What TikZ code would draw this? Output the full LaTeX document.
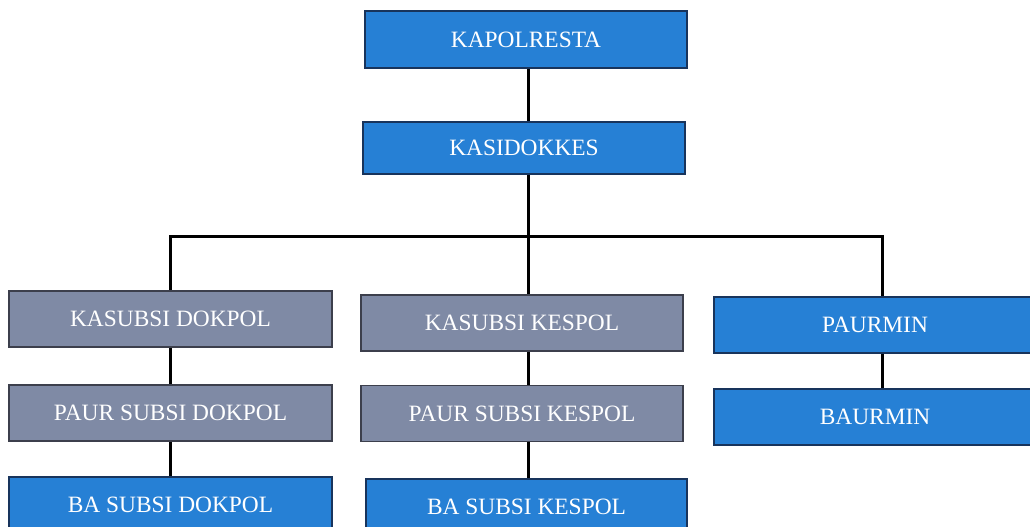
\documentclass[tikz,border=0pt]{standalone}
\usepackage{fontspec}
\setmainfont{Liberation Serif}
\definecolor{boxblue}{RGB}{38,128,213}
\definecolor{boxgray}{RGB}{127,138,165}
\definecolor{blueedge}{RGB}{24,52,92}
\definecolor{grayedge}{RGB}{60,63,76}
\tikzset{
  base/.style={rectangle, inner sep=0pt, line width=1.5pt, text=white,
    font=\fontsize{23.4}{26}\selectfont},
  bluebox/.style={base, fill=boxblue, draw=blueedge},
  graybox/.style={base, fill=boxgray, draw=grayedge},
  conn/.style={line width=3pt, black}
}
\begin{document}
\begin{tikzpicture}[x=1pt,y=-1pt]
\useasboundingbox (0,0) rectangle (1030,527);
\clip (0,0) rectangle (1030,527);
\coordinate (jm) at (528,236);
\coordinate (jl) at (170,236);
\coordinate (jr) at (882,236);
\node[bluebox, minimum width=322pt, minimum height=57pt] (kapol) at (526,39.5) {KAPOLRESTA};
\node[bluebox, minimum width=322pt, minimum height=52pt] (kasi) at (524,148) {KASIDOKKES};
\node[graybox, minimum width=323pt, minimum height=56pt] (kdok) at (170.5,319) {KASUBSI DOKPOL};
\node[graybox, minimum width=323pt, minimum height=56pt] (pdok) at (170.5,413) {PAUR SUBSI DOKPOL};
\node[bluebox, minimum width=323pt, minimum height=56pt] (bdok) at (170.5,505) {BA SUBSI DOKPOL};
\node[graybox, minimum width=322pt, minimum height=56pt] (kkes) at (522,323) {KASUBSI KESPOL};
\node[graybox, minimum width=322pt, minimum height=56pt] (pkes) at (522,413.5) {PAUR SUBSI KESPOL};
\node[bluebox, minimum width=321pt, minimum height=56pt] (bkes) at (526.5,507) {BA SUBSI KESPOL};
\node[bluebox, minimum width=322pt, minimum height=56pt] (paur) at (875,325) {PAURMIN};
\node[bluebox, minimum width=322pt, minimum height=56pt] (baur) at (875,417) {BAURMIN};
\begin{scope}[on background layer/.try]
\end{scope}
\draw[conn] (kapol.south -| jm) -- (kasi.north -| jm);
\draw[conn] (kasi.south -| jm) -- (jm);
\draw[conn, line cap=rect] (jl) -- (jr);
\draw[conn] (jl) -- (kdok.north -| jl);
\draw[conn] (jm) -- (kkes.north -| jm);
\draw[conn] (jr) -- (paur.north -| jr);
\draw[conn] (kdok.south -| jl) -- (pdok.north -| jl);
\draw[conn] (pdok.south -| jl) -- (bdok.north -| jl);
\draw[conn] (kkes.south -| jm) -- (pkes.north -| jm);
\draw[conn] (pkes.south -| jm) -- (bkes.north -| jm);
\draw[conn] (paur.south -| jr) -- (baur.north -| jr);
\end{tikzpicture}
\end{document}
